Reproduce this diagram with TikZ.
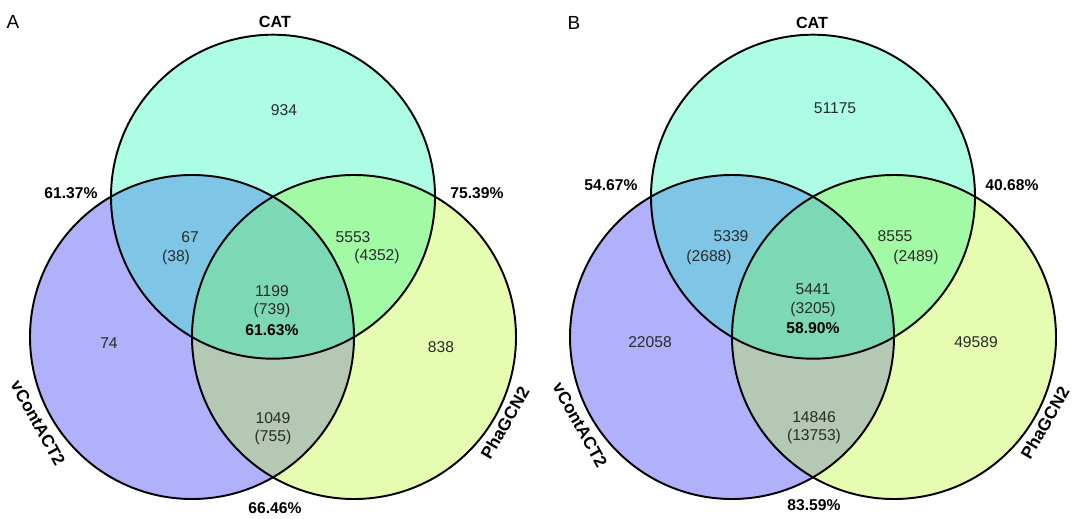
\documentclass[tikz,border=0pt]{standalone}
\usepackage{fontspec}
\setmainfont{Liberation Sans}
\usepackage{tikz}
\usetikzlibrary{positioning}

\definecolor{catonly}{HTML}{ADFDE5}
\definecolor{vconly}{HTML}{B1B1FB}
\definecolor{pgonly}{HTML}{E6FDB1}
\definecolor{catvc}{HTML}{7FC6E6}
\definecolor{catpg}{HTML}{A2FBA4}
\definecolor{vcpg}{HTML}{B4C8B4}
\definecolor{allthree}{HTML}{7DD9B5}
\definecolor{numtext}{HTML}{2A2A2A}

\newcommand{\vennr}{3.24}

\tikzset{
	num/.style={text=numtext, inner sep=0pt, font=\fontsize{8.9}{10}\selectfont},
	pct/.style={inner sep=0pt, font=\bfseries\fontsize{8.9}{10}\selectfont},
	setname/.style={inner sep=0pt, font=\bfseries\fontsize{9.2}{10}\selectfont},
	sidename/.style={inner sep=0pt, font=\bfseries\fontsize{9.8}{10}\selectfont},
	panel/.style={inner sep=0pt, font=\fontsize{10.8}{12}\selectfont},
	rim/.style={line width=1.1pt, black}
}

\begin{document}
\begin{tikzpicture}
			\useasboundingbox (0, 0) rectangle (21.6, 10.36);
			% panel A
			\coordinate (catA) at (5.46, 6.426);
			\coordinate (vcA) at (3.84, 3.62);
			\coordinate (pgA) at (7.08, 3.62);
			\fill [catonly] (catA) circle (\vennr);
			\fill [vconly] (vcA) circle (\vennr);
			\fill [pgonly] (pgA) circle (\vennr);
			\begin{scope}
				\clip (catA) circle (\vennr);
				\fill [catvc] (vcA) circle (\vennr);
				\fill [catpg] (pgA) circle (\vennr);
			\end{scope}
			\begin{scope}
				\clip (vcA) circle (\vennr);
				\fill [vcpg] (pgA) circle (\vennr);
			\end{scope}
			\begin{scope}
				\clip (catA) circle (\vennr);
				\clip (vcA) circle (\vennr);
				\fill [allthree] (pgA) circle (\vennr);
			\end{scope}
			\draw [rim] (catA) circle (\vennr);
			\draw [rim] (vcA) circle (\vennr);
			\draw [rim] (pgA) circle (\vennr);
			\node at (0.26, 9.92) [panel] (labA) {A};
			\node at (5.50, 9.92) [setname] (catnameA) {CAT};
			\node at (0.76, 1.90) [sidename, rotate=-61] (vcnameA) {vContACT2};
			\node at (10.10, 1.90) [sidename, rotate=60] (pgnameA) {PhaGCN2};
			\node at (5.68, 8.16) [num] (catonlyA) {934};
			\node at (2.18, 3.50) [num] (vconlyA) {74};
			\node at (8.82, 3.42) [num] (pgonlyA) {838};
			\node at (3.80, 5.62) [num] (catvcA) {67};
			\node at (3.52, 5.22) [num] (catvcsubA) {(38)};
			\node at (7.06, 5.62) [num] (catpgA) {5553};
			\node at (7.54, 5.24) [num] (catpgsubA) {(4352)};
			\node at (5.44, 4.54) [num] (allA) {1199};
			\node at (5.44, 4.16) [num] (allsubA) {(739)};
			\node at (5.44, 3.76) [pct] (allpctA) {61.63\%};
			\node at (5.46, 2.00) [num] (vcpgA) {1049};
			\node at (5.46, 1.62) [num] (vcpgsubA) {(755)};
			\node at (1.42, 6.50) [pct] (catvcpctA) {61.37\%};
			\node at (9.54, 6.50) [pct] (catpgpctA) {75.39\%};
			\node at (5.50, 0.20) [pct] (vcpgpctA) {66.46\%};
			% panel B
			\coordinate (catB) at (16.26, 6.426);
			\coordinate (vcB) at (14.64, 3.62);
			\coordinate (pgB) at (17.88, 3.62);
			\fill [catonly] (catB) circle (\vennr);
			\fill [vconly] (vcB) circle (\vennr);
			\fill [pgonly] (pgB) circle (\vennr);
			\begin{scope}
				\clip (catB) circle (\vennr);
				\fill [catvc] (vcB) circle (\vennr);
				\fill [catpg] (pgB) circle (\vennr);
			\end{scope}
			\begin{scope}
				\clip (vcB) circle (\vennr);
				\fill [vcpg] (pgB) circle (\vennr);
			\end{scope}
			\begin{scope}
				\clip (catB) circle (\vennr);
				\clip (vcB) circle (\vennr);
				\fill [allthree] (pgB) circle (\vennr);
			\end{scope}
			\draw [rim] (catB) circle (\vennr);
			\draw [rim] (vcB) circle (\vennr);
			\draw [rim] (pgB) circle (\vennr);
			\node at (11.48, 9.90) [panel] (labB) {B};
			\node at (16.24, 9.90) [setname] (catnameB) {CAT};
			\node at (11.60, 1.86) [sidename, rotate=-61] (vcnameB) {vContACT2};
			\node at (20.90, 1.90) [sidename, rotate=60] (pgnameB) {PhaGCN2};
			\node at (16.70, 8.20) [num] (catonlyB) {51175};
			\node at (13.00, 3.52) [num] (vconlyB) {22058};
			\node at (19.52, 3.52) [num] (pgonlyB) {49589};
			\node at (14.62, 5.64) [num] (catvcB) {5339};
			\node at (14.18, 5.22) [num] (catvcsubB) {(2688)};
			\node at (17.90, 5.64) [num] (catpgB) {8555};
			\node at (18.32, 5.22) [num] (catpgsubB) {(2489)};
			\node at (16.26, 4.58) [num] (allB) {5441};
			\node at (16.26, 4.18) [num] (allsubB) {(3205)};
			\node at (16.26, 3.80) [pct] (allpctB) {58.90\%};
			\node at (16.28, 2.02) [num] (vcpgB) {14846};
			\node at (16.28, 1.64) [num] (vcpgsubB) {(13753)};
			\node at (12.22, 6.66) [pct] (catvcpctB) {54.67\%};
			\node at (20.24, 6.66) [pct] (catpgpctB) {40.68\%};
			\node at (16.28, 0.26) [pct] (vcpgpctB) {83.59\%};
		\end{tikzpicture}
\end{document}
